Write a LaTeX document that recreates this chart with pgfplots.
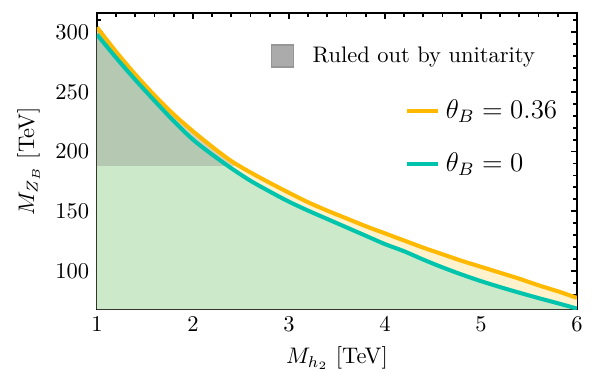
\documentclass[border=0pt]{standalone}
\usepackage{pgfplots}
\pgfplotsset{compat=1.18}
\definecolor{cyel}{RGB}{255,185,0}
\definecolor{cteal}{RGB}{0,196,172}
\definecolor{fgreen}{RGB}{204,234,201}
\definecolor{fband}{RGB}{255,242,204}
\definecolor{lgray}{RGB}{171,171,171}
\definecolor{bgray}{RGB}{150,150,150}

\pgfplotstableread{
x y
1.0 304
1.2 283.5
1.4 264.5
1.6 247
1.8 231
2.0 217
2.2 204
2.4 192
2.6 182.5
2.8 173.8
3.0 165.5
3.2 157.5
3.4 150.5
3.6 144
3.8 137.5
4.0 131.5
4.2 125.5
4.4 119.5
4.6 114
4.8 108.5
5.0 103.5
5.2 98.5
5.4 93.5
5.6 88
5.8 83
6.0 77.5
}\yellowdata

\pgfplotstableread{
x y
1.0 298
1.2 278.5
1.4 260
1.6 242.5
1.8 225.5
2.0 210
2.2 197.5
2.4 186
2.6 175.5
2.8 166.5
3.0 158
3.2 150.5
3.4 143.5
3.6 136.5
3.8 129.5
4.0 122.5
4.2 116.5
4.4 109.5
4.6 103
4.8 97
5.0 91.5
5.2 86.5
5.4 81.8
5.6 77.3
5.8 73
6.0 68.5
}\tealdata

\pgfplotstableread{
x y
1.0 188
1.0 304
1.2 283.5
1.4 264.5
1.6 247
1.8 231
2.0 217
2.2 204
2.4 192
2.48 188
}\graydata

\begin{document}
\begin{tikzpicture}
\begin{axis}[
  scale only axis,
  width=213.3pt, height=131.6pt,
  xmin=1, xmax=6, ymin=68, ymax=316,
  xtick={1,2,3,4,5,6},
  ytick={100,150,200,250,300},
  minor xtick={1.2,1.4,1.6,1.8,2.2,2.4,2.6,2.8,3.2,3.4,3.6,3.8,4.2,4.4,4.6,4.8,5.2,5.4,5.6,5.8},
  minor ytick={70,80,90,110,120,130,140,160,170,180,190,210,220,230,240,260,270,280,290,310},
  tick align=inside,
  major tick length=2.8pt,
  minor tick length=1.6pt,
  every tick/.style={black, line width=0.8pt},
  axis line style={line width=1.1pt},
  xlabel={$M_{h_2}$ [TeV]},
  ylabel={$M_{Z_B}$ [TeV]},
  legend style={draw=none, fill=none, at={(rel axis cs:0.627,0.58)}, anchor=west,
    row sep=9pt, font=\large, nodes={inner sep=2.5pt}},
  legend cell align=left,
  legend image code/.code={\draw[#1, line width=1.8pt] (0pt,0pt) -- (13.8pt,0pt);},
]
\addplot[draw=none, fill=fband, smooth, forget plot] table[x=x,y=y]{\yellowdata} \closedcycle;
\addplot[draw=none, fill=fgreen, smooth, forget plot] table[x=x,y=y]{\tealdata} \closedcycle;
\addplot[draw=none, fill=gray, fill opacity=0.3, forget plot] table[x=x,y=y]{\graydata} -- cycle;
\addplot[cyel, line width=1.8pt, smooth] table[x=x,y=y]{\yellowdata};
\addlegendentry{$\theta_B = 0.36$}
\addplot[cteal, line width=1.8pt, smooth] table[x=x,y=y]{\tealdata};
\addlegendentry{$\theta_B = 0$}
\end{axis}
\begin{axis}[
  scale only axis,
  width=213.3pt, height=131.6pt,
  xmin=1, xmax=6, ymin=68, ymax=316,
  hide axis,
  legend style={draw=none, fill=none, at={(rel axis cs:0.347,0.855)}, anchor=west,
    nodes={inner sep=2.5pt}},
  legend image code/.code={\draw[#1] (0pt,-4.9pt) rectangle (9.8pt,4.9pt); \path (15.5pt,0pt);},
]
\addlegendimage{fill=lgray, draw=bgray, line width=0.6pt}
\addlegendentry{Ruled out by unitarity}
\end{axis}
\pgfresetboundingbox
\path ([shift={(-43.1pt,-27.6pt)}]current axis.south west) rectangle ([shift={(8pt,5.8pt)}]current axis.north east);
\end{tikzpicture}
\end{document}
